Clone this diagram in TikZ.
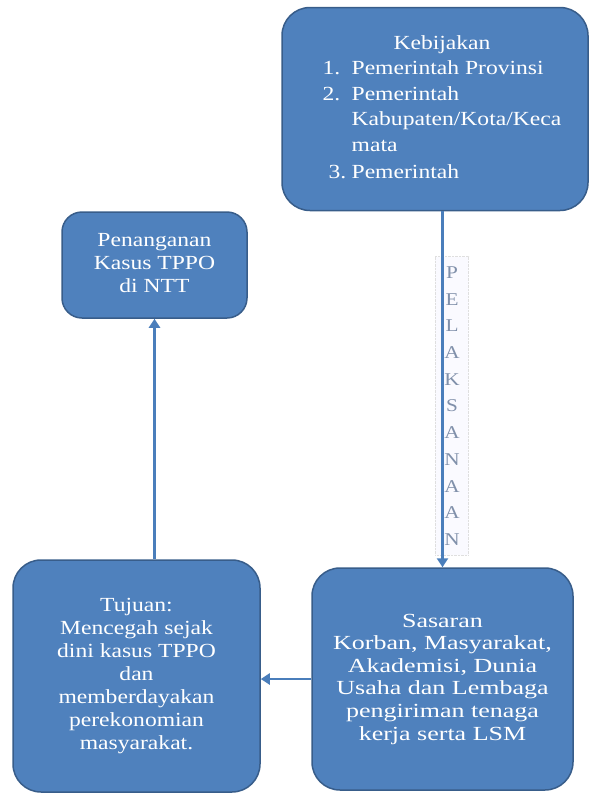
\documentclass[tikz,border=0pt]{standalone}
\usepackage{fontspec}
\setmainfont{Liberation Serif}[FakeStretch=1.18]
\newfontfamily\widefont{Liberation Serif}[FakeStretch=1.3]
\usepackage{xcolor}
\usetikzlibrary{positioning,arrows.meta}
\definecolor{boxblue}{RGB}{79,129,189}
\definecolor{boxline}{RGB}{56,93,138}
\definecolor{flowblue}{RGB}{74,126,187}
\definecolor{letterblue}{RGB}{128,144,170}
\tikzset{
box/.style={draw=boxline, line width=1.5pt, fill=boxblue, rounded corners=28pt, text=white, align=center, inner sep=0pt, font=\fontsize{20}{23}\selectfont},
flow/.style={draw=flowblue, line width=2.6pt, -{Triangle[length=9pt,width=11pt]}},
vlabel/.style={draw=gray!25, densely dotted, fill=blue!2, text=letterblue, align=center, inner xsep=9pt, inner ysep=10pt, font=\fontsize{18}{26.7}\selectfont}
}

\begin{document}
\begin{tikzpicture}[x=1pt,y=-1pt]
\useasboundingbox (0,0) rectangle (596,796);
% boxes
\node[box, minimum width=306pt, minimum height=203pt] (kebijakan) at (435,109)
 {\fontsize{20}{25.5}\selectfont\hspace*{14pt}%
  \begin{tabular}{@{}p{29pt}@{}l@{}}
  \multicolumn{2}{c}{Kebijakan}\\
  1. & Pemerintah Provinsi\\
  2. & Pemerintah\\
     & Kabupaten/Kota/Keca\\
     & mata\\[2pt]
  \hspace{6pt}3. & Pemerintah
  \end{tabular}};
\node[box, rounded corners=20pt, minimum width=185pt, minimum height=106pt] (penanganan) at (154.5,265)
 {\\[-14pt]Penanganan\\Kasus TPPO\\di NTT};
\node[box, minimum width=247pt, minimum height=232pt] (tujuan) at (136.5,676)
 {Tujuan:\\Mencegah sejak\\dini kasus TPPO\\dan\\memberdayakan\\perekonomian\\masyarakat.};
\node[box, minimum width=261pt, minimum height=222pt, font=\widefont\fontsize{20}{22.6}\selectfont] (sasaran) at (442.5,679)
 {Sasaran\\Korban, Masyarakat,\\Akademisi, Dunia\\Usaha dan Lembaga\\pengiriman tenaga\\kerja serta LSM};
% label
\node[vlabel] (pelaksanaan) at (452,406) {P\\E\\L\\A\\K\\S\\A\\N\\A\\A\\N};
% arrows
\draw[flow] (sasaran.north |- kebijakan.south) -- (sasaran.north);
\draw[flow] (sasaran.west) -- (sasaran.west -| tujuan.east);
\draw[flow] (penanganan.south |- tujuan.north) -- (penanganan.south);
\end{tikzpicture}
\end{document}
